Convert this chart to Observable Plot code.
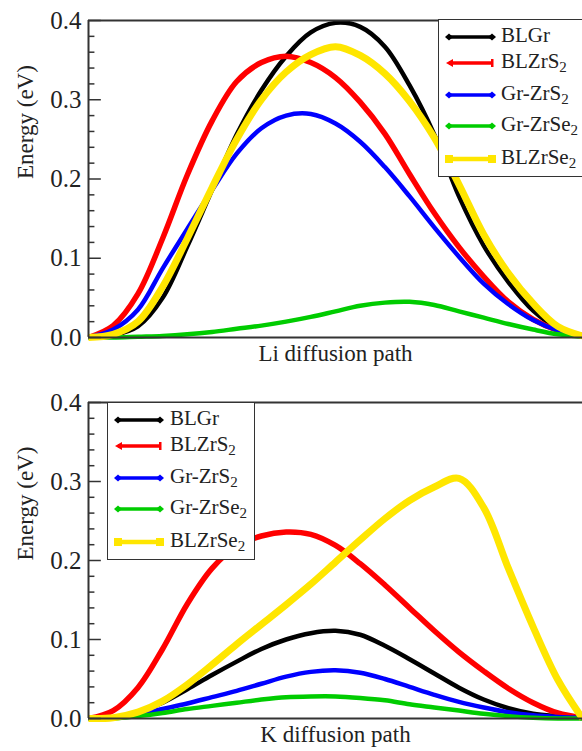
<!DOCTYPE html>
<html>
<head>
<meta charset="utf-8">
<script src="https://cdn.jsdelivr.net/npm/d3@7"></script>
<script src="https://cdn.jsdelivr.net/npm/@observablehq/plot@0.6"></script>
<style>
  body { margin: 0; background: #fff; }
  #wrap { position: relative; width: 582px; height: 751px; overflow: hidden;
          font-family: "Liberation Serif", "Tinos", "DejaVu Serif", serif; }
  #wrap svg.plot { display: block; }
  #wrap svg.plot text { font-family: "Liberation Serif", "Tinos", "DejaVu Serif", serif; }
  .legend { position: absolute; background: #fff; border: 1.5px solid #333; box-sizing: border-box; }
  .row { position: absolute; left: 0; height: 0; width: 100%; }
  .row svg { position: absolute; left: 6px; top: -7px; overflow: visible; }
  .row span { position: absolute; left: 62px; top: -14px; font-size: 21px; line-height: 24px;
              white-space: nowrap; color: #222; }
  .row sub { font-size: 15px; position: relative; top: 4px; vertical-align: baseline; line-height: 0; }
</style>
</head>
<body>
<div id="wrap"></div>
<script>
// ---- data ----
const pathPos = [0, 0.05, 0.1, 0.15, 0.2, 0.25, 0.3, 0.35, 0.4, 0.45, 0.5,
                 0.55, 0.6, 0.65, 0.7, 0.75, 0.8, 0.85, 0.9, 0.95, 1];
const seriesNames = ["BLGr", "BLZrS2", "Gr-ZrS2", "Gr-ZrSe2", "BLZrSe2"];
const yTicks = [0, 0.1, 0.2, 0.3, 0.4];
const yMinorTicks = [0.02, 0.04, 0.06, 0.08, 0.12, 0.14, 0.16, 0.18, 0.22, 0.24, 0.26, 0.28, 0.32, 0.34, 0.36, 0.38];

// Li diffusion path (top panel)
const liBLGr     = [0, 0.003, 0.014, 0.05, 0.115, 0.186, 0.256, 0.312, 0.355, 0.385, 0.397, 0.392, 0.367, 0.318, 0.256, 0.178, 0.116, 0.07, 0.034, 0.012, 0.002];
const liBLZrS2   = [0, 0.015, 0.055, 0.125, 0.205, 0.273, 0.323, 0.347, 0.355, 0.347, 0.328, 0.297, 0.257, 0.206, 0.157, 0.114, 0.077, 0.045, 0.023, 0.009, 0.002];
const liGrZrS2   = [0, 0.01, 0.035, 0.087, 0.137, 0.186, 0.232, 0.264, 0.28, 0.282, 0.27, 0.247, 0.215, 0.178, 0.139, 0.102, 0.068, 0.042, 0.022, 0.009, 0.003];
const liGrZrSe2  = [0, 0, 0.001, 0.002, 0.004, 0.007, 0.011, 0.015, 0.02, 0.026, 0.033, 0.04, 0.044, 0.045, 0.041, 0.033, 0.025, 0.017, 0.01, 0.004, 0.001];
const liBLZrSe2  = [0, 0.004, 0.02, 0.064, 0.125, 0.189, 0.25, 0.3, 0.335, 0.357, 0.367, 0.356, 0.333, 0.298, 0.252, 0.193, 0.13, 0.081, 0.043, 0.014, 0.002];

// K diffusion path (bottom panel)
const kBLGr      = [0, 0.001, 0.008, 0.02, 0.037, 0.055, 0.072, 0.088, 0.1, 0.108, 0.111, 0.106, 0.092, 0.075, 0.057, 0.039, 0.024, 0.013, 0.006, 0.003, 0.001];
const kBLZrS2    = [0, 0.01, 0.039, 0.088, 0.145, 0.19, 0.218, 0.231, 0.236, 0.233, 0.219, 0.196, 0.169, 0.14, 0.111, 0.084, 0.06, 0.038, 0.02, 0.007, 0.001];
const kGrZrS2    = [0, 0.001, 0.005, 0.012, 0.019, 0.027, 0.035, 0.044, 0.053, 0.059, 0.061, 0.058, 0.05, 0.04, 0.03, 0.021, 0.014, 0.008, 0.004, 0.002, 0.001];
const kGrZrSe2   = [0, 0, 0.003, 0.007, 0.012, 0.016, 0.02, 0.024, 0.027, 0.028, 0.028, 0.026, 0.023, 0.018, 0.014, 0.01, 0.006, 0.003, 0.001, 0, 0];
const kBLZrSe2   = [0, 0.001, 0.008, 0.022, 0.043, 0.068, 0.094, 0.119, 0.144, 0.17, 0.198, 0.226, 0.253, 0.276, 0.293, 0.304, 0.267, 0.19, 0.116, 0.049, 0];

// ---- styling ----
const colors = ["#000000", "#ff0000", "#0000ff", "#00cc00", "#ffe600"];
const widths = [4.5, 5.5, 4.5, 4.5, 7];
const frameColor = "#333";
const FONT = "'Liberation Serif', 'Tinos', 'DejaVu Serif', serif";

function panel(valueSets, xLabel, height, marginTop, marginBottom) {
  const rows = [];
  valueSets.forEach((vals, s) => vals.forEach((v, i) => rows.push({x: pathPos[i], y: v, s})));
  const svg = Plot.plot({
    width: 582, height, marginLeft: 88, marginRight: 0, marginTop, marginBottom,
    style: {fontFamily: FONT, background: "transparent", color: "#222", overflow: "visible"},
    x: {domain: [0, 1], axis: null},
    y: {domain: [0, 0.4]},
    marks: [
      ...seriesNames.map((n, s) => Plot.line(rows.filter(r => r.s === s), {
        x: "x", y: "y", stroke: colors[s], strokeWidth: widths[s], curve: "catmull-rom",
        strokeLinejoin: "round", strokeLinecap: "butt"
      })),
      Plot.ruleY(yMinorTicks, {x1: () => 0, x2: () => 0.013, stroke: frameColor, strokeWidth: 1.5}),
      Plot.ruleY(yTicks, {x1: () => 0, x2: () => 0.026, stroke: frameColor, strokeWidth: 1.5}),
      Plot.ruleX([0], {stroke: frameColor, strokeWidth: 2}),
      Plot.ruleY([0, 0.4], {stroke: frameColor, strokeWidth: 2}),
      Plot.axisY(yTicks, {tickSize: 0, tickPadding: 7, tickFormat: d3.format(".1f"), fontSize: 25, label: null, fill: "#222", fontFamily: FONT}),
      Plot.text(["Energy (eV)"], {text: d => d, frameAnchor: "left", dx: -63, rotate: -90, fontSize: 23, fill: "#222", fontFamily: FONT}),
      Plot.text([xLabel], {text: d => d, frameAnchor: "bottom", dy: 23, fontSize: 23, fill: "#222", fontFamily: FONT})
    ]
  });
  svg.classList.add("plot");
  return svg;
}

function labelHTML(name) {
  return name.endsWith("2") ? name.slice(0, -1) + "<sub>2</sub>" : name;
}

function markerSVG(s, x, y) {
  const c = colors[s];
  if (s === 4) return `<rect x="${x - 4}" y="${y - 4}" width="8" height="8" fill="${c}"/>`;
  if (s === 1) return x < 20
    ? `<path d="M${x - 3},${y} L${x + 4},${y - 4} L${x + 4},${y + 4} Z" fill="${c}"/>`
    : `<rect x="${x - 1}" y="${y - 4}" width="2.5" height="8" fill="${c}"/>`;
  return `<path d="M${x - 4},${y} L${x},${y - 3.5} L${x + 4},${y} L${x},${y + 3.5} Z" fill="${c}"/>`;
}

function legend(left, top, width, lineEnd, noRight) {
  const rowOffsets = [16.5, 43, 74.5, 106, 139];
  const div = document.createElement("div");
  div.className = "legend";
  Object.assign(div.style, {left: left + "px", top: top + "px", width: width + "px", height: "158px"});
  if (noRight) div.style.borderRight = "none";
  seriesNames.forEach((n, s) => {
    const row = document.createElement("div");
    row.className = "row";
    row.style.top = rowOffsets[s] + "px";
    const x0 = 4, x1 = lineEnd;
    row.innerHTML =
      `<svg width="${x1 + 8}" height="14"><line x1="${x0}" y1="7" x2="${x1}" y2="7" stroke="${colors[s]}" stroke-width="${s === 4 ? 4.5 : 3.5}"/>` +
      markerSVG(s, x0, 7) + markerSVG(s, x1, 7) + `</svg>` +
      `<span>${labelHTML(n)}</span>`;
    div.appendChild(row);
  });
  return div;
}

const wrap = document.getElementById("wrap");
wrap.appendChild(panel([liBLGr, liBLZrS2, liGrZrS2, liGrZrSe2, liBLZrSe2], "Li diffusion path", 380, 20, 43));
wrap.appendChild(panel([kBLGr, kBLZrS2, kGrZrS2, kGrZrSe2, kBLZrSe2], "K diffusion path", 371, 22, 33));
wrap.appendChild(legend(438, 19, 170, 47, true));
wrap.appendChild(legend(107, 402, 148, 46, false));
</script>
</body>
</html>
